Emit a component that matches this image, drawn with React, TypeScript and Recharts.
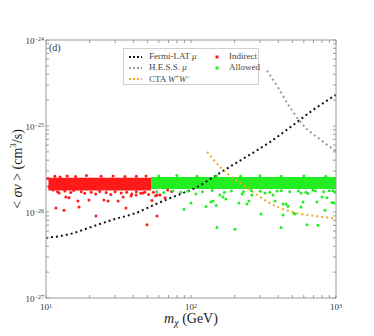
import { ComposedChart, Line, Scatter, XAxis, YAxis, ReferenceArea } from 'recharts'

const SERIF = '"Liberation Serif", "DejaVu Serif", serif'

// axis ticks
const xMajor = [10, 100, 1000]
const xTicks = [10, 20, 30, 40, 50, 60, 70, 80, 90, 100, 200, 300, 400, 500, 600, 700, 800, 900, 1000]
const yMajor = [1e-27, 1e-26, 1e-25, 1e-24]
const yTicks = [
  1e-27, 2e-27, 3e-27, 4e-27, 5e-27, 6e-27, 7e-27, 8e-27, 9e-27,
  1e-26, 2e-26, 3e-26, 4e-26, 5e-26, 6e-26, 7e-26, 8e-26, 9e-26,
  1e-25, 2e-25, 3e-25, 4e-25, 5e-25, 6e-25, 7e-25, 8e-25, 9e-25, 1e-24,
]

// limits: [mass GeV, <sigma v> cm^3/s]
const fermiMass = [10, 15, 20, 30, 40, 60, 80, 110, 150, 200, 300, 350, 500, 700, 1000]
const fermiSv = [5.0e-27, 5.6e-27, 6.6e-27, 8.3e-27, 9.5e-27, 1.28e-26, 1.56e-26, 1.95e-26, 2.69e-26, 3.63e-26, 5.5e-26, 6.5e-26, 1.01e-25, 1.55e-25, 2.3e-25]
const hessMass = [334, 400, 470, 556, 630, 739, 850, 1000]
const hessSv = [4.4e-25, 2.77e-25, 1.75e-25, 1.17e-25, 9.2e-26, 7.45e-26, 6.2e-26, 5.1e-26]
const ctaMass = [129, 160, 200, 221, 250, 276, 340, 445, 538, 682, 1000]
const ctaSv = [5.0e-26, 3.3e-26, 2.4e-26, 2.16e-26, 1.85e-26, 1.65e-26, 1.30e-26, 1.06e-26, 9.7e-27, 9.1e-27, 8.4e-27]

// dense parameter-scan bands: [mMin, mMax, svMin, svMax]
const indirectBand = [10.4, 53, 1.78e-26, 2.5e-26]
const allowedBand = [53, 1000, 1.85e-26, 2.55e-26]

// scattered scan points (units of 1e-26 cm^3/s)
const indirectMass = [
  11.0, 10.8, 12.3, 11.7, 13.3, 13.7, 14.4, 16.6, 16.9, 19.8, 22.1, 25.1, 26.8, 31.4, 34.0, 35.6, 38.6, 41.8, 49.7, 53.8, 58.3, 58.3, 46.7, 61.1, 66.2, 69, 73.6,
  10.5, 11.2, 12.0, 12.8, 13.5, 14.8, 15.5, 17.5, 18.5, 20.5, 22, 23.5, 26, 28, 30, 33, 36, 39, 42, 45, 48, 51, 55, 57,
  10.3, 11.5, 12.5, 14, 16, 19, 24, 29, 35, 42, 49,
]
const indirectSv = [
  2.29, 2.06, 1.66, 1.11, 1.05, 1.49, 1.46, 1.34, 1.14, 1.38, 0.90, 1.38, 1.34, 1.34, 1.49, 1.11, 1.53, 1.58, 0.71, 1.36, 0.90, 1.58, 1.66, 1.58, 1.46, 1.8, 1.73,
  1.95, 1.8, 1.72, 2.0, 1.75, 1.68, 1.78, 1.72, 1.65, 1.7, 1.62, 1.73, 1.68, 1.6, 1.72, 1.66, 1.7, 1.62, 1.72, 1.65, 1.7, 1.6, 1.7, 1.55,
  2.45, 2.6, 2.55, 2.62, 2.58, 2.65, 2.6, 2.62, 2.58, 2.6, 2.62,
]
const allowedMass = [
  89.5, 100, 108, 127, 137, 142, 149, 151, 158, 166, 174, 201, 214, 225, 243, 251, 263, 304, 324, 368, 380, 392, 418, 431, 431, 452, 467, 513, 521,
  574, 574, 592, 631, 641, 693, 739, 751, 800, 839, 867, 938, 953, 968,
  58, 65, 75, 85, 95, 120, 140, 170, 190, 230, 260, 300, 350, 420, 480, 550, 620, 720, 820, 900, 980,
  60, 80, 110, 150, 220, 300, 420, 600, 850,
]
const allowedSv = [
  1.08, 1.27, 1.62, 1.16, 1.31, 1.34, 1.19, 0.66, 1.58, 1.49, 1.42, 0.63, 1.27, 1.62, 1.24, 1.34, 1.58, 0.95, 1.66, 1.58, 1.34, 1.75, 0.66, 1.24, 0.92, 1.24, 1.17, 0.97, 0.95,
  1.66, 1.14, 1.31, 0.71, 1.64, 1.80, 1.31, 0.70, 1.49, 1.05, 1.46, 1.29, 1.78, 1.27,
  1.72, 1.68, 1.75, 1.7, 1.76, 1.72, 1.78, 1.7, 1.76, 1.72, 1.78, 1.74, 1.7, 1.77, 1.72, 1.76, 1.7, 1.75, 1.72, 1.77, 1.7,
  2.62, 2.65, 2.6, 2.63, 2.6, 2.64, 2.6, 2.62, 2.6,
]

const toPoints = (ms: number[], vs: number[], scale = 1) => ms.map((m, i) => ({ m, sv: vs[i] * scale }))
const fermiData = toPoints(fermiMass, fermiSv)
const hessData = toPoints(hessMass, hessSv)
const ctaData = toPoints(ctaMass, ctaSv)
const indirectData = toPoints(indirectMass, indirectSv, 1e-26)
const allowedData = toPoints(allowedMass, allowedSv, 1e-26)

const RED = '#ff1a1a'
const GREEN = '#22ee22'
const lines = [
  { name: 'Fermi-LAT', tail: 'μ', color: '#111111' },
  { name: 'H.E.S.S.', tail: 'μ', color: '#9a9a9a' },
  { name: 'CTA', tail: 'W', color: '#f5a623' },
]

const XTick = ({ x, y, payload }: any) => {
  if (!xMajor.includes(payload.value)) return <g />
  const exp = Math.round(Math.log10(payload.value))
  return (
    <text x={x} y={y} textAnchor="middle" fontSize={9} fill="#333" fontFamily={SERIF}>
      <tspan dy="0.71em">10</tspan>
      <tspan fontSize={6} dy="-0.45em">{exp}</tspan>
    </text>
  )
}

const YTick = ({ x, y, payload }: any) => {
  if (!yMajor.includes(payload.value)) return <g />
  const exp = Math.round(Math.log10(payload.value))
  return (
    <text x={x} y={y} textAnchor="end" fontSize={9} fill="#333" fontFamily={SERIF}>
      <tspan dy="0.45em">10</tspan>
      <tspan fontSize={6} dy="-0.5em">{'\u2212' + Math.abs(exp)}</tspan>
    </text>
  )
}

const Dot = (color: string) => (props: any) => <circle cx={props.cx} cy={props.cy} r={1.5} fill={color} />

const LegendBox = () => (
  <div style={{
    position: 'absolute', left: 123, top: 48, width: 134, height: 35,
    border: '1px solid #d0d0d0', background: '#fff',
    fontFamily: SERIF, fontSize: 9, color: '#444', lineHeight: '11px',
  }}>
    {lines.map((l, i) => (
      <div key={l.name} style={{ position: 'absolute', left: 4, top: 2 + i * 11, height: 11, display: 'flex', alignItems: 'center', whiteSpace: 'nowrap' }}>
        <svg width={14} height={4}><line x1={1} y1={2} x2={14} y2={2} stroke={l.color} strokeWidth={2} strokeDasharray="2 2" /></svg>
        <span style={{ marginLeft: 7 }}>
          {l.name}{' '}
          {l.tail === 'μ'
            ? <i>μ</i>
            : <><i>W</i><span style={{ fontSize: 6, verticalAlign: 3 }}>+</span><i>W</i><span style={{ fontSize: 6, verticalAlign: 3 }}>−</span></>}
        </span>
      </div>
    ))}
    {[{ n: 'Indirect', c: RED }, { n: 'Allowed', c: GREEN }].map((e, i) => (
      <div key={e.n} style={{ position: 'absolute', left: 91, top: 2 + i * 11, height: 11, display: 'flex', alignItems: 'center' }}>
        <svg width={4} height={4}><rect width={3} height={3} x={0.5} y={0.5} fill={e.c} /></svg>
        <span style={{ marginLeft: 10 }}>{e.n}</span>
      </div>
    ))}
  </div>
)

export default function App() {
  const axisColor = '#9a9a9a'
  return (
    <div style={{ position: 'absolute', left: 0, top: 0, width: 374, height: 336, background: '#fff' }}>
      <ComposedChart width={374} height={336} margin={{ top: 39, right: 37, bottom: 0, left: 0 }}>
        <XAxis
          xAxisId="b" dataKey="m" type="number" scale="log" domain={[10, 1000]} ticks={xTicks} interval={0}
          allowDataOverflow height={38} stroke={axisColor} tickSize={-3} tickMargin={9} tick={<XTick />}
          label={{
            content: (p: any) => {
              const vb = p.viewBox
              return (
                <text x={vb.x + vb.width / 2} y={vb.y + 25} textAnchor="middle" fontSize={14} fill="#222" fontFamily={SERIF}>
                  <tspan fontStyle="italic">m</tspan>
                  <tspan fontStyle="italic" fontSize={10} dy={3}>χ</tspan>
                  <tspan dy={-3}> (GeV)</tspan>
                </text>
              )
            },
          }}
        />
        <XAxis
          xAxisId="t" orientation="top" dataKey="m" type="number" scale="log" domain={[10, 1000]} ticks={xTicks} interval={0}
          allowDataOverflow height={1} stroke={axisColor} tickSize={-3} tick={<g />}
        />
        <YAxis
          yAxisId="l" dataKey="sv" type="number" scale="log" domain={[1e-27, 1e-24]} ticks={yTicks} interval={0}
          allowDataOverflow width={46} stroke={axisColor} tickSize={-3} tickMargin={5} tick={<YTick />}
          label={{
            content: (p: any) => {
              const vb = p.viewBox
              const cx = vb.x + 19
              const cy = vb.y + vb.height / 2
              return (
                <text x={cx} y={cy} transform={`rotate(-90 ${cx} ${cy})`} textAnchor="middle" dominantBaseline="middle" fontSize={14} fill="#222" fontFamily={SERIF}>
                  {'< '}<tspan fontStyle="italic">σv</tspan>{' >  (cm'}
                  <tspan fontSize={9} dy={-5}>3</tspan>
                  <tspan dy={5}>/s)</tspan>
                </text>
              )
            },
          }}
        />
        <YAxis
          yAxisId="r" orientation="right" dataKey="sv" type="number" scale="log" domain={[1e-27, 1e-24]} ticks={yTicks} interval={0}
          allowDataOverflow width={1} stroke={axisColor} tickSize={-3} tick={<g />}
        />

        <ReferenceArea xAxisId="b" yAxisId="l" x1={indirectBand[0]} x2={indirectBand[1]} y1={indirectBand[2]} y2={indirectBand[3]} fill={RED} fillOpacity={1} stroke="none" />
        <ReferenceArea xAxisId="b" yAxisId="l" x1={allowedBand[0]} x2={allowedBand[1]} y1={allowedBand[2]} y2={allowedBand[3]} fill={GREEN} fillOpacity={1} stroke="none" />
        <Scatter xAxisId="b" yAxisId="l" data={indirectData} dataKey="sv" shape={Dot(RED)} isAnimationActive={false} />
        <Scatter xAxisId="b" yAxisId="l" data={allowedData} dataKey="sv" shape={Dot(GREEN)} isAnimationActive={false} />

        <Line xAxisId="b" yAxisId="l" data={fermiData} dataKey="sv" type="monotone" stroke={lines[0].color} strokeWidth={2} strokeDasharray="2 3" dot={false} isAnimationActive={false} />
        <Line xAxisId="b" yAxisId="l" data={hessData} dataKey="sv" type="monotone" stroke={lines[1].color} strokeWidth={2} strokeDasharray="2 3" dot={false} isAnimationActive={false} />
        <Line xAxisId="b" yAxisId="l" data={ctaData} dataKey="sv" type="monotone" stroke={lines[2].color} strokeWidth={2} strokeDasharray="2 3" dot={false} isAnimationActive={false} />
      </ComposedChart>
      <LegendBox />
      <div style={{ position: 'absolute', left: 49, top: 42, fontFamily: SERIF, fontSize: 10, color: '#333' }}>(d)</div>
    </div>
  )
}
